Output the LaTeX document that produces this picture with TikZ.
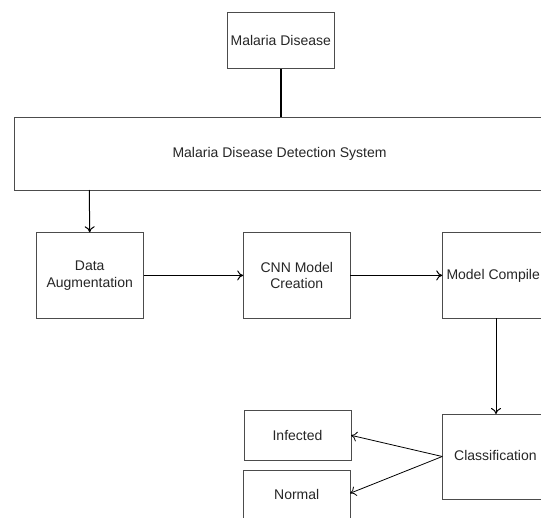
\documentclass[tikz,border=0pt]{standalone}
\usepackage{fontspec}
\setmainfont{Liberation Sans}
\usetikzlibrary{arrows.meta}
\begin{document}
\begin{tikzpicture}[x=1pt,y=-1pt,
  txt/.style={font=\fontsize{14}{16.7}\selectfont, text=black!85},
  boxst/.style={draw=black!70, line width=0.9pt, fill=white, inner sep=0pt, align=center, txt},
  conn/.style={draw=black, line width=1pt},
  arr/.style={conn, -{To[length=6pt,width=10pt]}}]
\useasboundingbox (0,0) rectangle (541,517);
\clip (0,0) rectangle (541,517);
\node[boxst, minimum width=107pt, minimum height=56pt] (md) at (280.8,40.7) {Malaria Disease};
\node[boxst, minimum width=540pt, minimum height=72.7pt] (sys) at (284,153.7) {};
\node[txt] (systxt) at (279.5,153.5) {Malaria Disease Detection System};
\node[boxst, minimum width=107.3pt, minimum height=85.3pt] (da) at (89.7,275.4) {Data\\Augmentation};
\node[boxst, minimum width=106.3pt, minimum height=85.3pt] (cnn) at (296.8,275.4) {CNN Model\\Creation};
\node[boxst, minimum width=120pt, minimum height=85.3pt] (mc) at (502.7,275.4) {};
\node[txt, anchor=west, inner sep=0pt] (mctxt) at (446.3,275.4) {Model Compile};
\node[boxst, minimum width=120pt, minimum height=85pt] (cls) at (502.7,456.5) {};
\node[txt, anchor=west, inner sep=0pt] (clstxt) at (454,455.5) {Classification};
\node[boxst, minimum width=107pt, minimum height=49.3pt] (inf) at (297.5,435.3) {Infected};
\node[boxst, minimum width=106.7pt, minimum height=60pt, anchor=north] (nor) at (296.7,470.3) {};
\node[txt, inner sep=0pt] (nortxt) at (296.7,494) {Normal};
\coordinate (sysb) at (89.3,190);
\coordinate (mcb) at (496,318);
\coordinate (clsa) at (496,414);
\coordinate (infend) at (351,435.3);
\coordinate (norend) at (350,493.3);
\draw[conn, line width=1.6pt] (md.south) -- (md.south |- sys.north);
\draw[arr] (sysb) -- (da.north);
\draw[arr] (da.east) -- (cnn.west);
\draw[arr] (cnn.east) -- (cnn.east -| mc.west);
\draw[arr] (mcb) -- (clsa);
\draw[arr, line width=0.8pt] (cls.west) -- (infend);
\draw[arr, line width=0.8pt] (cls.west) -- (norend);
\end{tikzpicture}
\end{document}
